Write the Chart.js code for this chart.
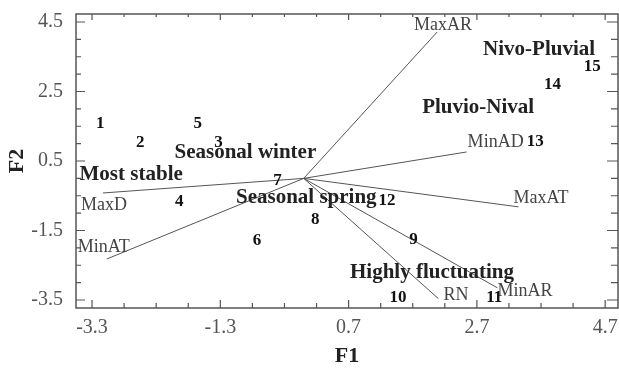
<!DOCTYPE html>
<html>
<head>
<meta charset="utf-8">
<script src="https://cdn.jsdelivr.net/npm/chart.js@4.4.1/dist/chart.umd.min.js"></script>
<style>
  html, body { margin: 0; padding: 0; background: #fff; }
</style>
</head>
<body>
<canvas id="biplot" width="619" height="370"></canvas>
<script>
// Sites (scores on F1 / F2)
const siteIds = ['1', '2', '3', '4', '5', '6', '7', '8', '9', '10', '11', '12', '13', '14', '15'];
const siteF1 = [-3.17, -2.55, -1.33, -1.94, -1.65, -0.73, -0.41, 0.18, 1.71, 1.47, 2.97, 1.30, 3.61, 3.88, 4.50];
const siteF2 = [1.57, 1.02, 1.02, -0.68, 1.57, -1.80, -0.05, -1.20, -1.77, -3.44, -3.44, -0.65, 1.05, 2.69, 3.23];

// Variables (arrow tips, drawn from the origin)
const varNames = ['MaxAR', 'MinAD', 'MaxAT', 'MinAR', 'RN', 'MaxD', 'MinAT'];
const varF1 = [2.08, 2.54, 3.35, 3.02, 2.10, -3.13, -3.07];
const varF2 = [4.21, 0.76, -0.82, -3.15, -3.46, -0.42, -2.32];

// Regime groups
const groupNames = ['Nivo-Pluvial', 'Pluvio-Nival', 'Seasonal winter', 'Most stable', 'Seasonal spring', 'Highly fluctuating'];

// Axis tick labels
const f1TickLabels = [-3.3, -1.3, 0.7, 2.7, 4.7];
const f2TickLabels = [-3.5, -1.5, 0.5, 2.5, 4.5];

// where the group names sit (axis units)
const groupPos = {
  'Nivo-Pluvial': [3.67, 3.70],
  'Pluvio-Nival': [2.72, 2.05],
  'Seasonal winter': [-0.91, 0.73],
  'Most stable': [-2.69, 0.10],
  'Seasonal spring': [0.04, -0.56],
  'Highly fluctuating': [2.00, -2.70]
};

// label nudges for the arrow names (px)
const varLabelNudge = {
  MaxAR: { dx: 6, dy: -7, align: 'center' },
  MinAD: { dx: 1, dy: -10, align: 'left' },
  MaxAT: { dx: -5, dy: -9, align: 'left' },
  MinAR: { dx: 0, dy: 3, align: 'left' },
  RN: { dx: 5, dy: -3, align: 'left' },
  MaxD: { dx: 1, dy: 12, align: 'center' },
  MinAT: { dx: -3, dy: -12, align: 'center' }
};

const serif = "'Liberation Serif', 'DejaVu Serif', serif";

// minor ticks every 0.5 starting from the first labelled tick
function minorTicks(labels) {
  const out = [];
  const first = labels[0], last = labels[labels.length - 1];
  for (let v = first; v <= last + 1e-9; v += 0.5) out.push(Math.round(v * 10) / 10);
  return out;
}
const f1Ticks = minorTicks(f1TickLabels);
const f2Ticks = minorTicks(f2TickLabels);

const isLabelled = (labels, v) => labels.some(t => Math.abs(t - v) < 1e-6);

// one dataset per arrow
const arrowSets = varNames.map((name, i) => ({
  label: name,
  data: [{ x: 0, y: 0 }, { x: varF1[i], y: varF2[i] }],
  showLine: true,
  borderColor: '#555',
  borderWidth: 1,
  pointRadius: 0,
  fill: false
}));

const siteSet = {
  label: 'sites',
  data: siteIds.map((id, i) => ({ x: siteF1[i], y: siteF2[i] })),
  pointRadius: 0,
  showLine: false
};

// frame, inward ticks and all text labels
const biplotDecor = {
  id: 'biplotDecor',
  afterDatasetsDraw(chart) {
    const { ctx, chartArea: a, scales: { x, y } } = chart;
    ctx.save();

    // frame
    ctx.strokeStyle = '#555';
    ctx.lineWidth = 1.5;
    ctx.strokeRect(a.left, a.top, a.right - a.left, a.bottom - a.top);

    // inward ticks
    ctx.lineWidth = 1.2;
    ctx.beginPath();
    f1Ticks.forEach(v => {
      const px = x.getPixelForValue(v);
      const len = isLabelled(f1TickLabels, v) ? 8 : 5;
      ctx.moveTo(px, a.bottom); ctx.lineTo(px, a.bottom - len);
      ctx.moveTo(px, a.top); ctx.lineTo(px, a.top + len - 2);
    });
    f2Ticks.forEach(v => {
      const py = y.getPixelForValue(v);
      const len = isLabelled(f2TickLabels, v) ? 9 : 5;
      ctx.moveTo(a.left, py); ctx.lineTo(a.left + len, py);
      ctx.moveTo(a.right, py); ctx.lineTo(a.right - len - 2, py);
    });
    ctx.stroke();

    // arrow names
    ctx.fillStyle = '#444';
    ctx.font = '18px ' + serif;
    ctx.textBaseline = 'middle';
    varNames.forEach((name, i) => {
      const tip = chart.getDatasetMeta(i).data[1];
      const n = varLabelNudge[name];
      ctx.textAlign = n.align;
      ctx.fillText(name, tip.x + n.dx, tip.y + n.dy);
    });

    // group names
    ctx.fillStyle = '#222';
    ctx.font = 'bold 21px ' + serif;
    ctx.textAlign = 'center';
    groupNames.forEach(g => {
      const p = groupPos[g];
      ctx.fillText(g, x.getPixelForValue(p[0]), y.getPixelForValue(p[1]));
    });

    // site numbers
    ctx.fillStyle = '#111';
    ctx.font = 'bold 17px ' + serif;
    const siteMeta = chart.getDatasetMeta(varNames.length);
    siteIds.forEach((id, i) => {
      const el = siteMeta.data[i];
      ctx.fillText(id, el.x, el.y);
    });

    ctx.restore();
  }
};

new Chart(document.getElementById('biplot').getContext('2d'), {
  type: 'scatter',
  data: { datasets: [...arrowSets, siteSet] },
  options: {
    responsive: false,
    animation: false,
    layout: { padding: { top: 14, right: 1, left: 0, bottom: 0 } },
    plugins: {
      legend: { display: false },
      tooltip: { enabled: false }
    },
    scales: {
      x: {
        type: 'linear',
        min: -3.55,
        max: 4.9,
        afterBuildTicks: scale => { scale.ticks = f1Ticks.map(v => ({ value: v })); },
        afterFit: scale => {
          scale.height = 62;
          scale.paddingLeft = 0;
          scale.paddingRight = 0;
        },
        grid: { display: false, drawTicks: false },
        border: { display: false },
        ticks: {
          autoSkip: false,
          maxRotation: 0,
          padding: 8,
          color: '#555',
          font: { family: serif, size: 20 },
          callback: v => isLabelled(f1TickLabels, v) ? v.toFixed(1) : ''
        },
        title: {
          display: true,
          text: 'F1',
          color: '#222',
          font: { family: serif, size: 22, weight: 'bold' },
          padding: { top: 0, bottom: 0 }
        }
      },
      y: {
        type: 'linear',
        min: -3.73,
        max: 4.73,
        afterBuildTicks: scale => { scale.ticks = f2Ticks.map(v => ({ value: v })); },
        afterFit: scale => {
          scale.width = 76;
          scale.paddingTop = 0;
          scale.paddingBottom = 0;
        },
        grid: { display: false, drawTicks: false },
        border: { display: false },
        ticks: {
          autoSkip: false,
          padding: 13,
          color: '#555',
          font: { family: serif, size: 20 },
          callback: v => isLabelled(f2TickLabels, v) ? v.toFixed(1) : ''
        },
        title: {
          display: true,
          text: 'F2',
          color: '#222',
          font: { family: serif, size: 22, weight: 'bold' },
          padding: { top: 4, bottom: 0 }
        }
      }
    }
  },
  plugins: [biplotDecor]
});
</script>
</body>
</html>
